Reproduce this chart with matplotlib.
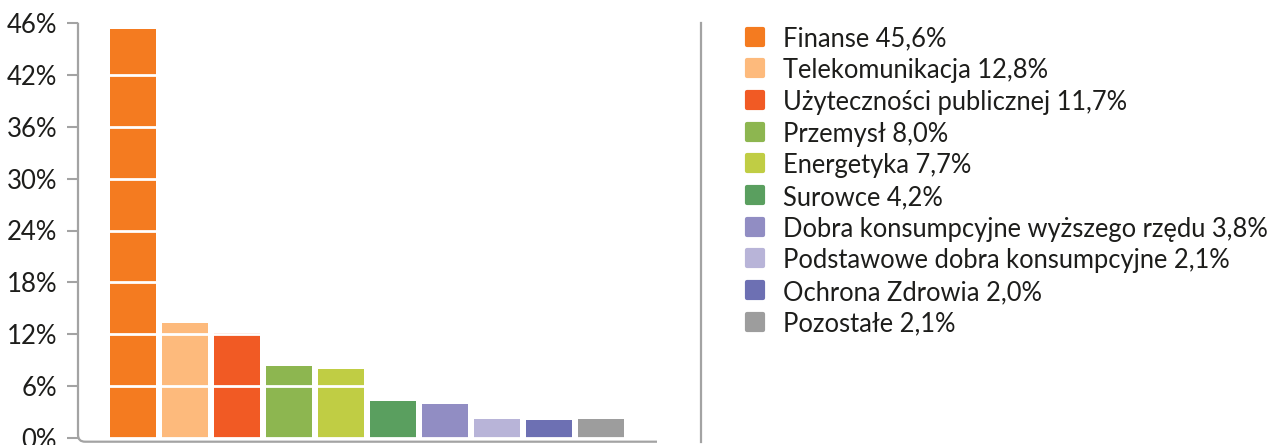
import numpy as np
import matplotlib
matplotlib.use("Agg")
import matplotlib.pyplot as plt
from matplotlib.lines import Line2D
from matplotlib.path import Path
from matplotlib.patches import PathPatch
from matplotlib.markers import MarkerStyle

# ---- data ----
categories = ["Finanse", "Telekomunikacja", "Użyteczności publicznej", "Przemysł",
              "Energetyka", "Surowce", "Dobra konsumpcyjne wyższego rzędu",
              "Podstawowe dobra konsumpcyjne", "Ochrona Zdrowia", "Pozostałe"]
values = [45.6, 12.8, 11.7, 8.0, 7.7, 4.2, 3.8, 2.1, 2.0, 2.1]
colors = ["#F47B20", "#FDBA7C", "#F15A24", "#8DB650", "#C0CD44",
          "#5A9F5F", "#918DC3", "#B8B4D8", "#6D70B3", "#9D9D9D"]
tick_labels = ["0%", "6%", "12%", "18%", "24%", "30%", "36%", "42%", "46%"]

W, H = 1271, 445
plt.rcParams['font.family'] = ['Lato', 'DejaVu Sans']
fig = plt.figure(figsize=(W / 100, H / 100), dpi=100)

def fx(px):
    return px / W

def fy(py):
    return (H - py) / H

ymax = 46.3
y0_px, ytop_px = 438.3, 22.7
ax_left, ax_right = 78, 657
ax = fig.add_axes([fx(ax_left), fy(y0_px), fx(ax_right - ax_left), (y0_px - ytop_px) / H])

x = np.arange(len(values))
ax.bar(x, values, width=0.885, color=colors, zorder=1)
ax.set_xlim(-1.058, 10.08)
ax.set_ylim(0, ymax)
ax.set_yticks(np.linspace(0, ymax, len(tick_labels)))
ax.set_yticklabels(tick_labels, fontsize=18.5, color="#1d1d1b")
ax.set_xticks([])
ax.tick_params(axis='y', length=8, width=1.5, color="#a3a3a3", direction='out', pad=7)
for s in ax.spines.values():
    s.set_visible(False)
ax.yaxis.grid(True, color='white', linewidth=2)
ax.set_axisbelow(False)
ax.patch.set_alpha(0)

# axis frame with rounded bottom-left corner
r = 7
bot = 441.7
verts = [(ax_left, ytop_px), (ax_left, bot - r), (ax_left, bot), (ax_left + r, bot), (ax_right, bot)]
verts = [(fx(a), fy(b)) for a, b in verts]
codes = [Path.MOVETO, Path.LINETO, Path.CURVE3, Path.CURVE3, Path.LINETO]
fig.add_artist(PathPatch(Path(verts, codes), fill=False, edgecolor="#a3a3a3",
                         linewidth=1.6, transform=fig.transFigure, zorder=5))

# divider line
fig.add_artist(Line2D([fx(701), fx(701)], [fy(22.7), fy(442)], color="#a3a3a3",
                      linewidth=1.6, transform=fig.transFigure))

# legend
row0, step = 36.5, 31.7
for i, (name, val, col) in enumerate(zip(categories, values, colors)):
    yy = row0 + i * step
    ms = MarkerStyle('s', joinstyle='round')
    fig.add_artist(Line2D([fx(755.5)], [fy(yy)], marker=ms, markersize=12,
                          markerfacecolor=col, markeredgecolor=col, markeredgewidth=3,
                          linestyle='none', transform=fig.transFigure))
    label = f"{name} {val:.1f}%".replace('.', ',')
    fig.text(fx(783), fy(yy), label, fontsize=18.4, color="#1d1d1b",
             va='center_baseline', ha='left')

fig.savefig("out.png", dpi=100)
